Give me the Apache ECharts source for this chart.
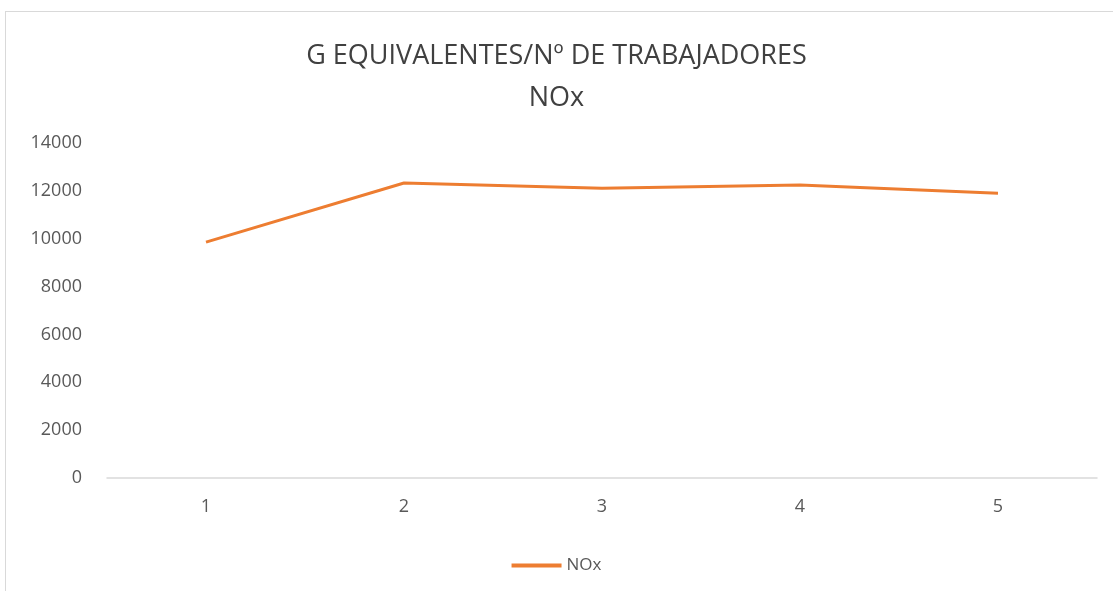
<!DOCTYPE html>
<html>
<head>
<meta charset="utf-8">
<script src="https://cdn.jsdelivr.net/npm/echarts@6/dist/echarts.min.js"></script>
<style>
	html, body { margin: 0; padding: 0; background: #fff; }
	#frame { position: absolute; left: 5px; top: 11px; width: 1200px; height: 700px; border: 1px solid #d9d9d9; }
	#main { position: absolute; left: 0; top: 0; width: 1113px; height: 591px; }
</style>
</head>
<body>
<div id="frame"></div>
<div id="main"></div>
<script>
var categorias = ['1', '2', '3', '4', '5'];
var valoresNOx = [9860, 12330, 12110, 12240, 11900];
var nombreSerie = 'NOx';

var myChart = echarts.init(document.getElementById('main'));
var option = {
	backgroundColor: 'transparent',
	textStyle: { fontFamily: 'Open Sans' },
	title: {
		text: 'G EQUIVALENTES/Nº DE TRABAJADORES\nNOx',
		left: 'center',
		top: 30,
		textStyle: { fontSize: 27, fontWeight: 'normal', color: '#404040', lineHeight: 42, fontFamily: 'Open Sans' }
	},
	legend: {
		bottom: 12,
		left: 'center',
		itemWidth: 50,
		itemHeight: 4,
		itemGap: 4,
		icon: 'rect',
		textStyle: { fontSize: 17, color: '#595959' },
		data: [nombreSerie]
	},
	grid: { left: 107, right: 16, top: 143, bottom: 113 },
	xAxis: {
		type: 'category',
		data: categorias,
		boundaryGap: true,
		axisLine: { lineStyle: { color: '#d9d9d9', width: 1.5 } },
		axisTick: { show: false },
		axisLabel: { fontSize: 18, color: '#595959', margin: 20 }
	},
	yAxis: {
		type: 'value',
		min: 0,
		max: 14000,
		interval: 2000,
		axisLine: { show: false },
		axisTick: { show: false },
		splitLine: { show: false },
		axisLabel: {
			fontSize: 18, color: '#595959', margin: 25,
			formatter: function (v) { return String(v); }
		}
	},
	series: [{
		name: nombreSerie,
		type: 'line',
		data: valoresNOx,
		symbol: 'none',
		lineStyle: { color: '#ed7d31', width: 3 },
		itemStyle: { color: '#ed7d31' }
	}]
};
myChart.setOption(option);
</script>
</body>
</html>
